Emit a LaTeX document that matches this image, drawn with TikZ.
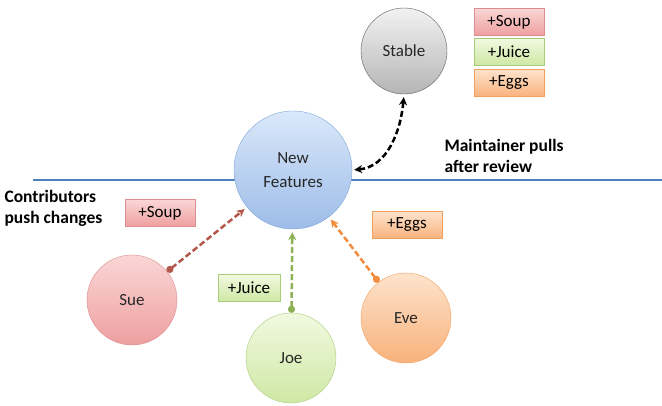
\documentclass[tikz,border=0pt]{standalone}
\usepackage{fontspec}
\setmainfont{Carlito}
\usetikzlibrary{arrows.meta}
\definecolor{lineblue}{HTML}{4F81BD}
\definecolor{soupline}{HTML}{B5584C}
\definecolor{juiceline}{HTML}{8DB255}
\definecolor{eggsline}{HTML}{F28C3E}
\definecolor{nftop}{HTML}{DAE8FA}\definecolor{nfbot}{HTML}{9DBCE8}\definecolor{nfedge}{HTML}{7FA6D8}
\definecolor{sttop}{HTML}{F2F2F2}\definecolor{stbot}{HTML}{B5B5B5}\definecolor{stedge}{HTML}{5A5A5A}
\definecolor{redtop}{HTML}{FBD6D6}\definecolor{redbot}{HTML}{EE9F9F}\definecolor{rededge}{HTML}{DC8E8E}
\definecolor{grntop}{HTML}{F1F9E0}\definecolor{grnbot}{HTML}{CFE8A4}\definecolor{grnedge}{HTML}{A9CC7A}
\definecolor{orgtop}{HTML}{FDE3CC}\definecolor{orgbot}{HTML}{F9B27C}\definecolor{orgedge}{HTML}{F2A060}
\tikzset{
  person/.style={circle,minimum size=90pt,inner sep=0pt,text=black!85,font=\fontsize{17}{24}\selectfont},
  itembox/.style={rectangle,minimum width=70pt,minimum height=27pt,inner sep=0pt,font=\fontsize{17}{19}\selectfont},
  soupfill/.style={draw=rededge,top color=redtop,bottom color=redbot},
  juicefill/.style={draw=grnedge,top color=grntop,bottom color=grnbot},
  eggsfill/.style={draw=orgedge,top color=orgtop,bottom color=orgbot},
  push/.style={line width=2.5pt,dash pattern=on 6pt off 3pt,{Circle[length=7pt]}-{Stealth[length=8pt,width=8pt]},shorten >=3pt},
  note/.style={align=left,anchor=west,font=\fontsize{17.5}{21}\selectfont\bfseries}
}
\begin{document}
\begin{tikzpicture}[x=1pt,y=-1pt]
  \useasboundingbox (0,0) rectangle (662,405);
  \draw[lineblue,line width=1.6pt] (33,180) -- (662,180);
  \node[person,minimum size=86pt,draw=stedge,top color=sttop,bottom color=stbot] (stable) at (404,51) {Stable};
  \node[itembox,soupfill] (soupA) at (509,22) {+Soup};
  \node[itembox,juicefill] (juiceA) at (509,52) {+Juice};
  \node[itembox,eggsfill] (eggsA) at (509,83) {+Eggs};
  \node[person,minimum size=118pt,align=center,draw=nfedge,top color=nftop,bottom color=nfbot] (nf) at (293,170) {New\\Features};
  \node[person,draw=rededge,top color=redtop,bottom color=redbot] (sue) at (132,300) {Sue};
  \node[person,draw=grnedge,top color=grntop,bottom color=grnbot] (joe) at (291,358) {Joe};
  \node[person,draw=orgedge,top color=orgtop,bottom color=orgbot] (eve) at (406,318) {Eve};
  \node[itembox,soupfill] (soupB) at (160,213) {+Soup};
  \node[itembox,juicefill,minimum width=62pt] (juiceB) at (249,288) {+Juice};
  \node[itembox,eggsfill] (eggsB) at (407,225) {+Eggs};
  \node[note] (contrib) at (1,208) {Contributors\\push changes};
  \node[note] (maint) at (441,156) {Maintainer pulls\\after review};
  \draw[push,soupline] (sue) -- (nf);
  \draw[push,juiceline] (joe) -- (nf);
  \draw[push,eggsline] (eve) -- (nf);
  \draw[line width=2.5pt,dash pattern=on 6pt off 3pt,{Stealth[length=8pt,width=8pt]}-{Stealth[length=8pt,width=8pt]},shorten <=2pt,shorten >=3pt] (nf.east) to[out=5,in=-95] (stable.south);
\end{tikzpicture}
\end{document}
